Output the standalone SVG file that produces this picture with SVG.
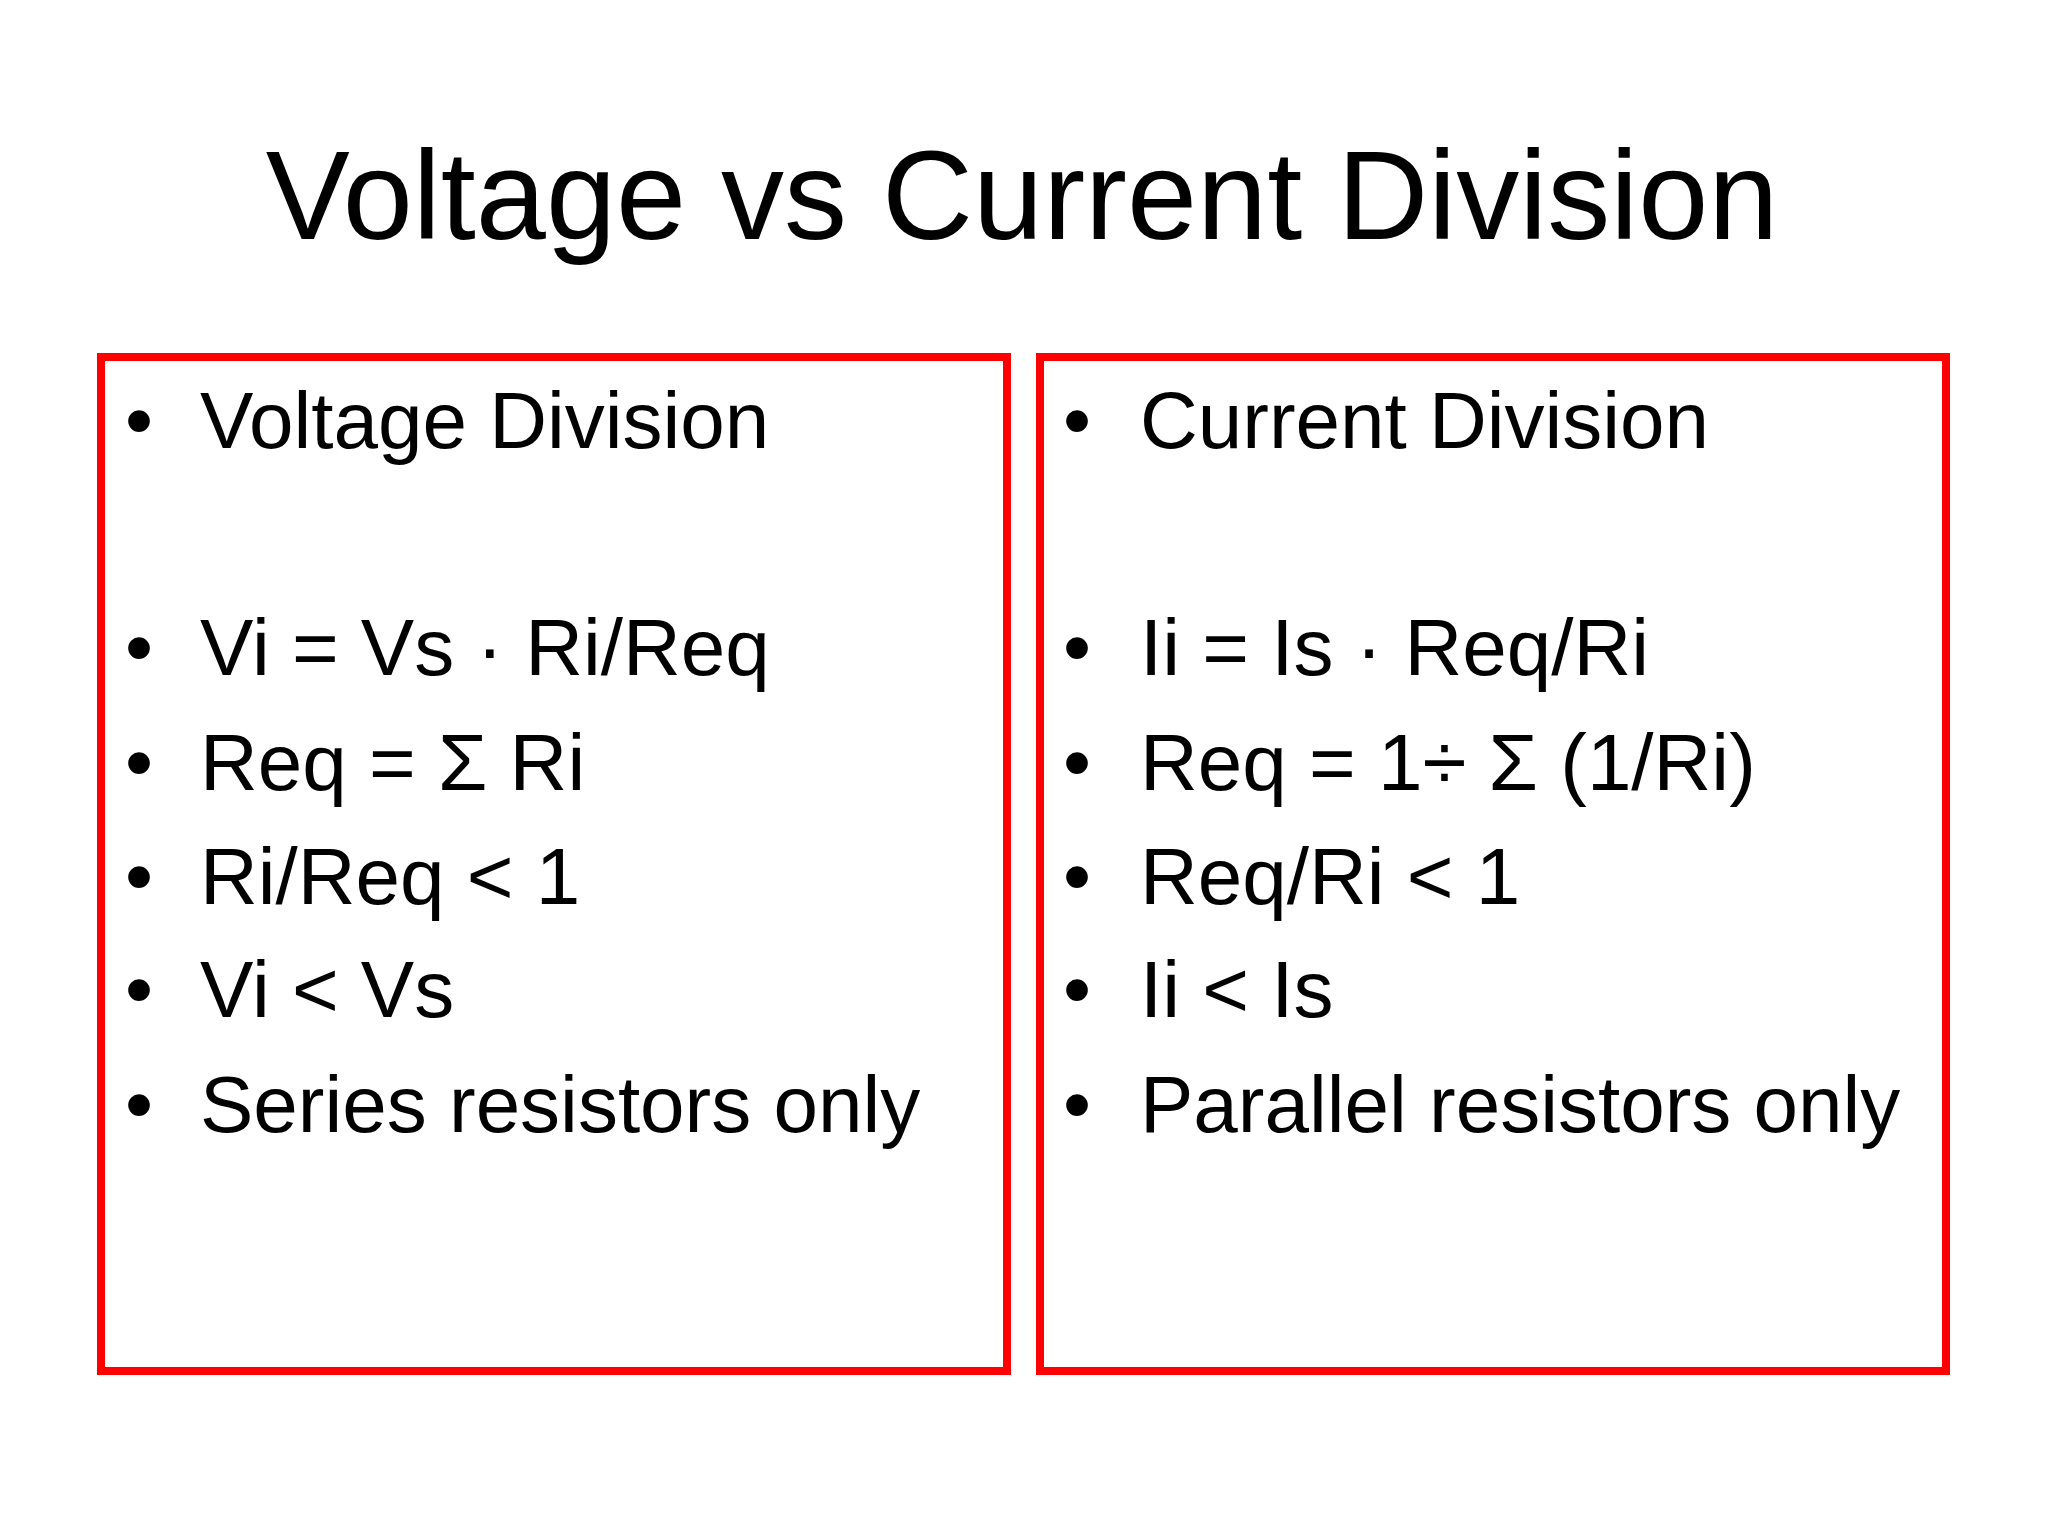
<svg xmlns="http://www.w3.org/2000/svg" width="2048" height="1536" viewBox="0 0 2048 1536">
<style>
.t{font-family:"Liberation Sans",Arial,sans-serif;fill:#000}
.b{font-size:80px}
.box{fill:none;stroke:#f00;stroke-width:8}
</style>
<rect width="2048" height="1536" fill="#fff"/>
<text class="t" x="1022" y="239" font-size="126" text-anchor="middle">Voltage vs Current Division</text>
<g id="voltage">
<rect class="box" x="101" y="357" width="906" height="1014"/>
<g class="t b">
<text x="125" y="448">•</text><text x="200" y="448">Voltage Division</text>
<text x="125" y="675">•</text><text x="200" y="675">Vi = Vs · Ri/Req</text>
<text x="125" y="790">•</text><text x="200" y="790">Req = Σ Ri</text>
<text x="125" y="904">•</text><text x="200" y="904">Ri/Req &lt; 1</text>
<text x="125" y="1017">•</text><text x="200" y="1017">Vi &lt; Vs</text>
<text x="125" y="1132">•</text><text x="200" y="1132">Series resistors only</text>
</g>
</g>
<g id="current">
<rect class="box" x="1040" y="357" width="906" height="1014"/>
<g class="t b">
<text x="1063" y="448">•</text><text x="1140" y="448">Current Division</text>
<text x="1063" y="675">•</text><text x="1140" y="675">Ii = Is · Req/Ri</text>
<text x="1063" y="790">•</text><text x="1140" y="790">Req = 1÷ Σ (1/Ri)</text>
<text x="1063" y="904">•</text><text x="1140" y="904">Req/Ri &lt; 1</text>
<text x="1063" y="1017">•</text><text x="1140" y="1017">Ii &lt; Is</text>
<text x="1063" y="1132">•</text><text x="1140" y="1132">Parallel resistors only</text>
</g>
</g>
<g id="connectors"/>
</svg>
